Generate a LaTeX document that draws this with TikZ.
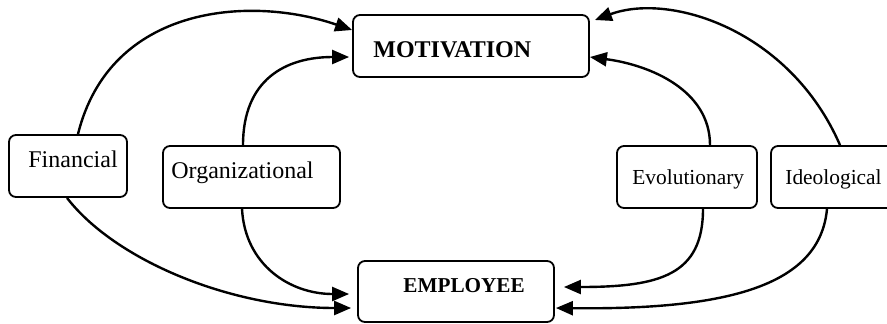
\documentclass[tikz,border=0pt]{standalone}
\usepackage{fontspec}
\setmainfont{Liberation Serif}
\usetikzlibrary{arrows.meta,calc}
\begin{document}
\begin{tikzpicture}[x=0.5pt,y=-0.5pt,
  box/.style={draw,rounded corners=3.5pt,line width=0.9pt,inner sep=0pt},
  lbl/.style={anchor=base west,inner sep=0pt},
  big/.style={font=\fontsize{12}{14}\selectfont},
  small/.style={font=\fontsize{10.7}{13}\selectfont},
  conn/.style={line width=1.2pt,-{Triangle[length=8.5pt,width=7pt]}}]
\useasboundingbox (0,0) rectangle (887,323);
% boxes
\node[box,minimum width=118pt,minimum height=31pt] (mot) at (471,46) {};
\node[box,minimum width=98pt,minimum height=30.5pt] (emp) at (456,291.5) {};
\node[box,minimum width=59pt,minimum height=31pt] (fin) at (68,166) {};
\node[box,minimum width=88.5pt,minimum height=31pt] (org) at (251.5,177) {};
\node[box,minimum width=70pt,minimum height=31pt] (evo) at (687,177) {};
\node[box,minimum width=62pt,minimum height=31pt] (ideo) at (833,177) {};
% texts
\node[lbl,font=\fontsize{12}{14}\selectfont\bfseries] (tmot) at (373,57) {MOTIVATION};
\node[lbl,font=\fontsize{10.6}{13}\selectfont\bfseries] (temp) at (403,292) {EMPLOYEE};
\node[lbl,big] (tfin) at (28,167) {Financial};
\node[lbl,big] (torg) at (171,178) {Organizational};
\node[lbl,small] (tevo) at (632,184) {Evolutionary};
\node[lbl,small] (tideo) at (785,184) {Ideological};
% connectors
\draw[conn] ($(fin.north)+(10,0)$) .. controls (110,5) and (250,-5) .. ($(mot.west)+(0,-16)$);
\draw[conn] ($(org.north)+(-8.5,0)$) .. controls (243,80) and (285,57) .. ($(mot.west)+(-3,11)$);
\draw[conn] ($(org.south)+(-9.5,0)$) .. controls (245,265) and (290,294) .. ($(emp.west)+(-8,2.5)$);
\draw[conn] ($(fin.south)+(-1,0)$) .. controls (115,260) and (230,308) .. ($(emp.west)+(-6,16.5)$);
\draw[conn] ($(evo.north)+(23,0)$) .. controls (710,90) and (650,65) .. ($(mot.east)+(0,11)$);
\draw[conn] ($(ideo.north)+(7,0)$) .. controls (790,30) and (670,-8) .. ($(mot.east)+(5,-26)$);
\draw[conn] ($(evo.south)+(16,0)$) .. controls (703,275) and (660,287) .. ($(emp.east)+(9,-4.5)$);
\draw[conn] ($(ideo.south)+(-6,0)$) .. controls (820,285) and (730,310) .. ($(emp.east)+(1,16.5)$);
\end{tikzpicture}
\end{document}
